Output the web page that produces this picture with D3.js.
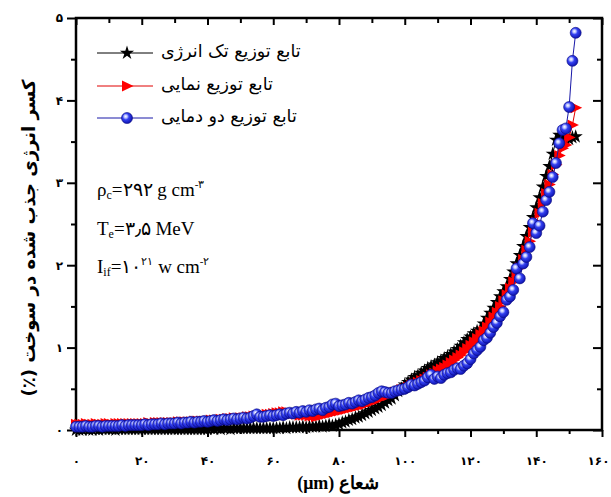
<!DOCTYPE html>
<html>
<head>
<meta charset="utf-8">
<script src="https://cdn.jsdelivr.net/npm/d3@7"></script>
<style>
  body { margin: 0; background: #fff; }
  svg { display: block; }
</style>
</head>
<body>
<svg id="chart" width="611" height="497"></svg>
<script>
// Radius in micrometres (shared sampling for all three distributions)
const radius = [
  0,1,2,3,4,5,6,7,8,9,10,11,12,13,14,15,16,17,18,19,
  20,21,22,23,24,25,26,27,28,29,30,31,32,33,34,35,36,37,38,39,
  40,41,42,43,44,45,46,47,48,49,50,51,52,53,54,55,56,57,58,59,
  60,61,62,63,64,65,66,67,68,69,70,71,72,73,74,75,76,77,78,79,
  80,81,82,83,84,85,86,87,88,89,90,91,92,93,94,95,96,97,98,99,
  100,101,102,103,104,105,106,107,108,109,110,111,112,113,114,115,116,117,118,119,
  120,121,122,123,124,125,126,127,128,129,130,131,132,133,134,135,136,137,138,139,
  140,141,142,143,144,145,146,147,148,149,150,151,152
];

// Absorbed energy fraction (%) – single-energy distribution
const singleEnergy = [
  0.00,0.00,0.00,0.01,0.00,0.00,0.01,0.00,0.01,0.01,
  0.01,0.01,0.00,0.01,0.01,0.01,0.01,0.01,0.01,0.01,
  0.01,0.01,0.01,0.01,0.01,0.01,0.01,0.01,0.01,0.01,
  0.01,0.01,0.01,0.01,0.01,0.01,0.01,0.01,0.01,0.01,
  0.01,0.02,0.01,0.02,0.01,0.02,0.02,0.01,0.02,0.02,
  0.02,0.02,0.02,0.02,0.02,0.02,0.02,0.02,0.02,0.02,
  0.02,0.02,0.02,0.03,0.02,0.03,0.03,0.03,0.03,0.04,
  0.03,0.04,0.04,0.04,0.05,0.04,0.05,0.06,0.05,0.06,
  0.07,0.09,0.10,0.12,0.13,0.15,0.16,0.18,0.20,0.22,
  0.24,0.26,0.28,0.30,0.33,0.36,0.38,0.42,0.47,0.50,
  0.55,0.58,0.61,0.64,0.66,0.69,0.72,0.75,0.77,0.79,
  0.82,0.84,0.87,0.89,0.92,0.95,0.98,1.02,1.06,1.10,
  1.13,1.17,1.20,1.22,1.29,1.36,1.42,1.48,1.55,1.62,
  1.68,1.74,1.83,1.92,2.02,2.12,2.23,2.35,2.46,2.58,
  2.70,2.82,2.95,3.08,3.20,3.35,3.52,3.58,3.55,3.52,
  3.53,3.55,3.56
];

// Absorbed energy fraction (%) – exponential distribution
const exponential = [
  0.07,0.07,0.07,0.08,0.07,0.07,0.08,0.07,0.07,0.08,
  0.08,0.07,0.08,0.08,0.08,0.08,0.08,0.08,0.08,0.08,
  0.08,0.08,0.09,0.08,0.09,0.09,0.09,0.09,0.09,0.09,
  0.09,0.10,0.10,0.10,0.10,0.10,0.11,0.11,0.11,0.11,
  0.11,0.12,0.12,0.12,0.13,0.13,0.14,0.14,0.15,0.14,
  0.15,0.15,0.16,0.16,0.17,0.17,0.18,0.18,0.19,0.19,
  0.20,0.21,0.21,0.22,0.22,0.21,0.20,0.19,0.18,0.18,
  0.18,0.17,0.17,0.16,0.17,0.18,0.19,0.20,0.21,0.22,
  0.23,0.24,0.25,0.26,0.27,0.28,0.29,0.30,0.31,0.33,
  0.34,0.36,0.37,0.39,0.41,0.42,0.44,0.46,0.47,0.49,
  0.50,0.52,0.54,0.56,0.58,0.60,0.62,0.64,0.67,0.69,
  0.72,0.74,0.76,0.79,0.82,0.85,0.88,0.91,0.95,0.99,
  1.03,1.07,1.11,1.16,1.20,1.25,1.31,1.37,1.43,1.50,
  1.57,1.64,1.72,1.80,1.88,1.97,2.07,2.18,2.29,2.40,
  2.52,2.63,2.75,2.87,2.98,3.10,3.22,3.33,3.42,3.46,
  3.55,3.70,3.91
];

// Absorbed energy fraction (%) – two-temperature distribution
const twoTemperature = [
  0.04,0.04,0.04,0.05,0.04,0.04,0.05,0.05,0.04,0.05,
  0.05,0.05,0.05,0.05,0.06,0.05,0.06,0.06,0.06,0.06,
  0.06,0.07,0.06,0.07,0.07,0.07,0.08,0.07,0.08,0.08,
  0.08,0.09,0.08,0.09,0.09,0.10,0.09,0.10,0.10,0.11,
  0.10,0.11,0.12,0.11,0.12,0.13,0.12,0.13,0.14,0.13,
  0.14,0.15,0.14,0.15,0.17,0.19,0.16,0.16,0.17,0.18,
  0.17,0.18,0.19,0.18,0.20,0.21,0.20,0.22,0.21,0.23,
  0.22,0.24,0.23,0.25,0.26,0.24,0.27,0.28,0.31,0.32,
  0.29,0.30,0.31,0.33,0.32,0.34,0.36,0.35,0.37,0.39,
  0.40,0.42,0.45,0.47,0.46,0.45,0.45,0.47,0.48,0.49,
  0.50,0.52,0.55,0.54,0.56,0.58,0.60,0.64,0.67,0.62,
  0.65,0.63,0.67,0.69,0.70,0.73,0.75,0.74,0.78,0.81,
  0.86,0.93,0.97,1.01,1.09,1.12,1.18,1.25,1.30,1.38,
  1.43,1.58,1.62,1.70,1.96,1.84,2.02,2.10,2.22,2.51,
  2.39,2.48,2.65,2.79,2.89,3.07,3.24,3.48,3.64,3.66,
  3.92,4.48,4.82
];

const seriesNames = ["تابع توزیع تک انرژی", "تابع توزیع نمایی", "تابع توزیع دو دمایی"];

const xTicks = [0, 20, 40, 60, 80, 100, 120, 140, 160];
const xTickLabels = ["۰", "۲۰", "۴۰", "۶۰", "۸۰", "۱۰۰", "۱۲۰", "۱۴۰", "۱۶۰"];
const xMinorTicks = [10, 30, 50, 70, 90, 110, 130, 150];
const yTicks = [0, 1, 2, 3, 4, 5];
const yTickLabels = ["۰", "۱", "۲", "۳", "۴", "۵"];
const yMinorTicks = [0.5, 1.5, 2.5, 3.5, 4.5];

const xTitle = "(μm) شعاع";
const yTitle = "کسر انرژی جذب شده در سوخت (٪)";

const svg = d3.select("#chart");
const x = d3.scaleLinear().domain([0, 160]).range([76, 602]);
const y = d3.scaleLinear().domain([0, 5]).range([430, 18]);

const persianFont = "'DejaVu Sans', sans-serif";
const serifFont = "'Liberation Serif', 'Times New Roman', serif";

// ---- axes (ticks on all four sides; top/right mirror without labels)
function styleAxis(g) {
  g.select(".domain").remove();
  g.selectAll(".tick line").attr("stroke", "#000").attr("stroke-width", 2);
}

const bottom = svg.append("g").attr("transform", "translate(0,430)");
bottom.call(d3.axisBottom(x).tickValues(xTicks).tickSize(7).tickPadding(19)
  .tickFormat((d, i) => xTickLabels[i])).call(styleAxis);
bottom.selectAll("text").attr("font-family", persianFont).attr("font-size", 12)
  .attr("font-weight", "bold").attr("fill", "#000");
// keep the last label inside the page edge
bottom.selectAll(".tick").filter(d => d === 160).select("text").attr("x", -4);
svg.append("g").attr("transform", "translate(0,430)")
  .call(d3.axisBottom(x).tickValues(xMinorTicks).tickSize(4).tickFormat("")).call(styleAxis);

svg.append("g").attr("transform", "translate(0,18)")
  .call(d3.axisBottom(x).tickValues(xTicks).tickSize(7).tickFormat("")).call(styleAxis);
svg.append("g").attr("transform", "translate(0,18)")
  .call(d3.axisBottom(x).tickValues(xMinorTicks).tickSize(5).tickFormat("")).call(styleAxis);

const left = svg.append("g").attr("transform", "translate(76,0)");
left.call(d3.axisLeft(y).tickValues(yTicks).tickSize(9).tickPadding(4)
  .tickFormat((d, i) => yTickLabels[i])).call(styleAxis);
left.selectAll("text").attr("font-family", persianFont).attr("font-size", 12)
  .attr("font-weight", "bold").attr("fill", "#000");
svg.append("g").attr("transform", "translate(76,0)")
  .call(d3.axisLeft(y).tickValues(yMinorTicks).tickSize(5).tickFormat("")).call(styleAxis);

svg.append("g").attr("transform", "translate(602,0)")
  .call(d3.axisLeft(y).tickValues(yTicks).tickSize(9).tickFormat("")).call(styleAxis);
svg.append("g").attr("transform", "translate(602,0)")
  .call(d3.axisLeft(y).tickValues(yMinorTicks).tickSize(5).tickFormat("")).call(styleAxis);

// plot frame
svg.append("rect")
  .attr("x", x(0)).attr("y", y(5))
  .attr("width", x(160) - x(0)).attr("height", y(0) - y(5))
  .attr("fill", "none").attr("stroke", "#000").attr("stroke-width", 2.5);

// ---- marker shapes
const defs = svg.append("defs");
const grad = defs.append("radialGradient").attr("id", "ball")
  .attr("cx", "0.4").attr("cy", "0.4").attr("r", "0.65").attr("fx", "0.38").attr("fy", "0.35");
grad.append("stop").attr("offset", "0").attr("stop-color", "#ffffff");
grad.append("stop").attr("offset", "0.22").attr("stop-color", "#b8c0ff");
grad.append("stop").attr("offset", "0.45").attr("stop-color", "#3340f0");
grad.append("stop").attr("offset", "1").attr("stop-color", "#0a0fa8");

const starPath = d3.symbol(d3.symbolStar).size(62)();
const trianglePath = "M-5,-5.5L6.5,0L-5,5.5Z";

function drawMarker(g, kind) {
  if (kind === "star") {
    g.append("path").attr("d", starPath).attr("fill", "#000");
  } else if (kind === "triangle") {
    g.append("path").attr("d", trianglePath).attr("fill", "#ff0000");
  } else {
    g.append("circle").attr("r", 5.5).attr("fill", "url(#ball)")
      .attr("stroke", "#0a0a80").attr("stroke-width", 0.6);
  }
}

const series = [
  { values: singleEnergy, line: "#000000", kind: "star" },
  { values: exponential, line: "#e00000", kind: "triangle" },
  { values: twoTemperature, line: "#1818a8", kind: "ball" }
];

const lineGen = d3.line().x(d => x(d[0])).y(d => y(d[1]));

series.forEach(s => {
  const pts = radius.map((r, i) => [r, s.values[i]]);
  const g = svg.append("g");
  g.append("path").attr("d", lineGen(pts)).attr("fill", "none")
    .attr("stroke", s.line).attr("stroke-width", 1);
  pts.forEach(p => {
    const m = g.append("g").attr("transform", `translate(${x(p[0])},${y(p[1])})`);
    drawMarker(m, s.kind);
  });
});

// ---- legend
const legendRows = [53, 86, 118];
series.forEach((s, i) => {
  const ly = legendRows[i];
  svg.append("line").attr("x1", 97).attr("x2", 153).attr("y1", ly).attr("y2", ly)
    .attr("stroke", s.line).attr("stroke-width", 1);
  const m = svg.append("g").attr("transform", `translate(127,${ly})`);
  drawMarker(m, s.kind);
  svg.append("text").attr("x", 161).attr("y", ly + 4)
    .attr("font-family", persianFont).attr("font-size", 17.5)
    .attr("fill", "#000").text(seriesNames[i]);
});

// ---- physical parameters
const notes = svg.append("g").attr("font-family", serifFont).attr("font-size", 19).attr("fill", "#000");
const n1 = notes.append("text").attr("x", 97).attr("y", 196);
n1.append("tspan").text("ρ");
n1.append("tspan").attr("font-size", 12).attr("dy", 3).text("c");
n1.append("tspan").attr("dy", -3).text("=۲۹۲ g cm");
n1.append("tspan").attr("font-size", 11).attr("dy", -8).text("-۳");

const n2 = notes.append("text").attr("x", 97).attr("y", 235);
n2.append("tspan").text("T");
n2.append("tspan").attr("font-size", 12).attr("dy", 3).text("e");
n2.append("tspan").attr("dy", -3).text("=۳٫۵ MeV");

const n3 = notes.append("text").attr("x", 97).attr("y", 273);
n3.append("tspan").text("I");
n3.append("tspan").attr("font-size", 12).attr("dy", 3).text("if");
n3.append("tspan").attr("dy", -3).text("=۱۰");
n3.append("tspan").attr("font-size", 11).attr("dy", -8).text("۲۱");
n3.append("tspan").attr("dy", 8).text(" w cm");
n3.append("tspan").attr("font-size", 11).attr("dy", -8).text("-۲");

// ---- axis titles
svg.append("text").attr("x", 338).attr("y", 489).attr("text-anchor", "middle")
  .attr("font-family", serifFont).attr("font-weight", "bold").attr("font-size", 18)
  .attr("fill", "#000").text(xTitle);

svg.append("text").attr("transform", "translate(35,238) rotate(-90)")
  .attr("text-anchor", "middle").attr("direction", "rtl")
  .attr("font-family", persianFont).attr("font-weight", "bold").attr("font-size", 18)
  .attr("fill", "#000").text(yTitle);
</script>
</body>
</html>
